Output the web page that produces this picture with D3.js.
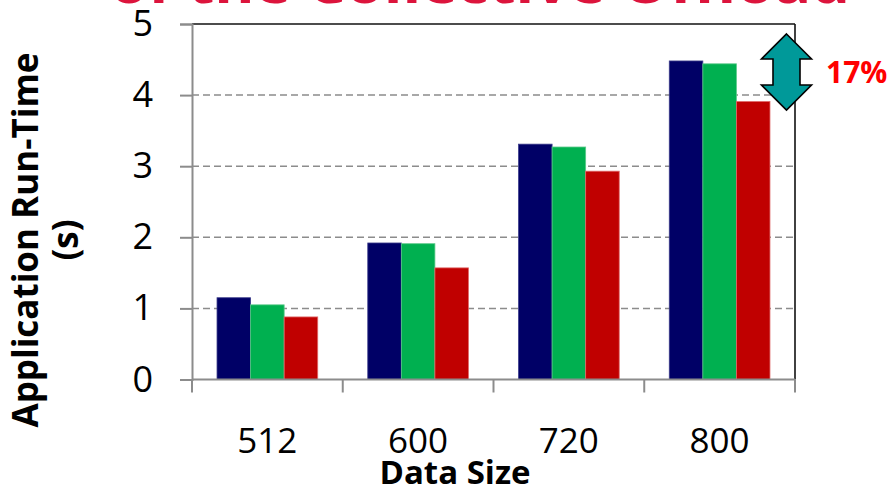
<!DOCTYPE html>
<html>
<head>
<meta charset="utf-8">
<script src="https://cdn.jsdelivr.net/npm/d3@7"></script>
<style>
  html, body { margin: 0; padding: 0; background: #fff; }
  svg { display: block; }
  text { font-family: "Open Sans", "DejaVu Sans", sans-serif; }
</style>
</head>
<body>
<svg id="chart" width="893" height="489"></svg>
<script>
// Application run-time (s) per data size, three configurations
const categories = ["512", "600", "720", "800"];
const seriesNames = ["baseline", "offload", "collective"];
const seriesBaseline = [1.15, 1.92, 3.31, 4.48];
const seriesOffload = [1.05, 1.91, 3.27, 4.44];
const seriesCollective = [0.88, 1.57, 2.93, 3.91];
const seriesColors = ["#000066", "#00B050", "#C00000"];
const seriesEdges = ["#3b3b8a", "#5cc98a", "#e06a6a"];
const yTicks = [0, 1, 2, 3, 4, 5];
const gainLabel = "17%";
const titleText = "of the Collective Offload";

const svg = d3.select("#chart");

const plotLeft = 192, plotRight = 795, plotTop = 24, plotBottom = 379.5;

const x = d3.scaleBand().domain(categories).range([plotLeft, plotRight]).padding(0);
const bw = x.bandwidth();
const x1 = d3.scaleBand().domain(seriesNames).range([bw * 0.166, bw * 0.834]).padding(0);
const y = d3.scaleLinear().domain([0, 5]).range([plotBottom, plotTop]);

// heading running off the top edge
svg.append("text")
  .attr("x", 110).attr("y", 3)
  .attr("textLength", 740).attr("lengthAdjust", "spacingAndGlyphs")
  .attr("font-size", 56).attr("font-weight", 700)
  .attr("fill", "#DC143C")
  .text(titleText);

// dashed horizontal gridlines
svg.append("g").selectAll("line")
  .data(yTicks.filter(t => t > 0 && t < 5))
  .join("line")
  .attr("x1", plotLeft).attr("x2", plotRight)
  .attr("y1", d => y(d)).attr("y2", d => y(d))
  .attr("stroke", "#8c8c8c").attr("stroke-width", 1.5)
  .attr("stroke-dasharray", "7,4");

// bars
const rows = categories.map((c, i) => ({
  cat: c,
  vals: [seriesBaseline[i], seriesOffload[i], seriesCollective[i]]
}));

const groups = svg.append("g").selectAll("g")
  .data(rows)
  .join("g")
  .attr("transform", d => `translate(${x(d.cat)},0)`);

groups.selectAll("rect")
  .data(d => d.vals.map((v, k) => ({ v, k })))
  .join("rect")
  .attr("x", d => x1(seriesNames[d.k]))
  .attr("width", x1.bandwidth())
  .attr("y", d => y(d.v))
  .attr("height", d => y(0) - y(d.v))
  .attr("fill", d => seriesColors[d.k])
  .attr("stroke", d => seriesEdges[d.k])
  .attr("stroke-width", 0.8);

// plot frame: black on top and right
svg.append("line")
  .attr("x1", plotLeft).attr("x2", plotRight).attr("y1", y(5)).attr("y2", y(5))
  .attr("stroke", "#111").attr("stroke-width", 1.6);
svg.append("line")
  .attr("x1", plotRight).attr("x2", plotRight).attr("y1", y(5)).attr("y2", y(0))
  .attr("stroke", "#111").attr("stroke-width", 1.6);

// y axis
const yAxis = svg.append("g")
  .attr("transform", `translate(${plotLeft},0)`)
  .call(d3.axisLeft(y).tickValues(yTicks).tickSize(12).tickPadding(27).tickFormat(d3.format("d")));
yAxis.select(".domain").attr("stroke", "#8c8c8c").attr("stroke-width", 2);
yAxis.selectAll(".tick line").attr("stroke", "#8c8c8c").attr("stroke-width", 2);
yAxis.selectAll(".tick text")
  .attr("font-size", 36).attr("fill", "#000")
  .attr("font-family", "'Open Sans', sans-serif");

// x axis with ticks at category boundaries
const xAxisG = svg.append("g").attr("transform", `translate(0,${y(0)})`);
xAxisG.append("line")
  .attr("x1", plotLeft).attr("x2", plotRight).attr("y1", 0).attr("y2", 0)
  .attr("stroke", "#8c8c8c").attr("stroke-width", 2);
const bounds = categories.map(c => x(c)).concat([plotRight]);
xAxisG.selectAll("line.bt")
  .data(bounds)
  .join("line").attr("class", "bt")
  .attr("x1", d => d).attr("x2", d => d)
  .attr("y1", 0).attr("y2", 13)
  .attr("stroke", "#8c8c8c").attr("stroke-width", 2);
xAxisG.selectAll("text")
  .data(categories)
  .join("text")
  .attr("x", d => x(d) + bw / 2)
  .attr("y", 73)
  .attr("text-anchor", "middle")
  .attr("font-size", 35)
  .attr("fill", "#000")
  .text(d => d);

// axis titles
svg.append("text")
  .attr("x", 455).attr("y", 484)
  .attr("text-anchor", "middle")
  .attr("font-size", 33).attr("font-weight", 700)
  .text("Data Size");

const yTitle = svg.append("text")
  .attr("transform", "translate(0,240) rotate(-90)")
  .attr("text-anchor", "middle")
  .attr("font-size", 35).attr("font-weight", 700);
yTitle.append("tspan").attr("x", 0).attr("y", 38).text("Application Run-Time");
yTitle.append("tspan").attr("x", 0).attr("y", 78).text("(s)");

// double-headed gain arrow beside the largest size
const ax = x("800") + bw - 8.5;
const aTop = y(4.86), aBot = y(3.79);
const headH = 25, headW = 25, shaftW = 13.5;
const arrowPts = [
  [ax, aTop],
  [ax + headW, aTop + headH],
  [ax + shaftW, aTop + headH],
  [ax + shaftW, aBot - headH],
  [ax + headW, aBot - headH],
  [ax, aBot],
  [ax - headW, aBot - headH],
  [ax - shaftW, aBot - headH],
  [ax - shaftW, aTop + headH],
  [ax - headW, aTop + headH]
];
svg.append("polygon")
  .attr("points", arrowPts.map(p => p.join(",")).join(" "))
  .attr("fill", "#009999")
  .attr("stroke", "#000")
  .attr("stroke-width", 1.6)
  .attr("stroke-linejoin", "miter");

svg.append("text")
  .attr("x", 826).attr("y", 83)
  .attr("font-size", 30).attr("font-weight", 700)
  .attr("fill", "#FF0000")
  .text(gainLabel);
</script>
</body>
</html>
